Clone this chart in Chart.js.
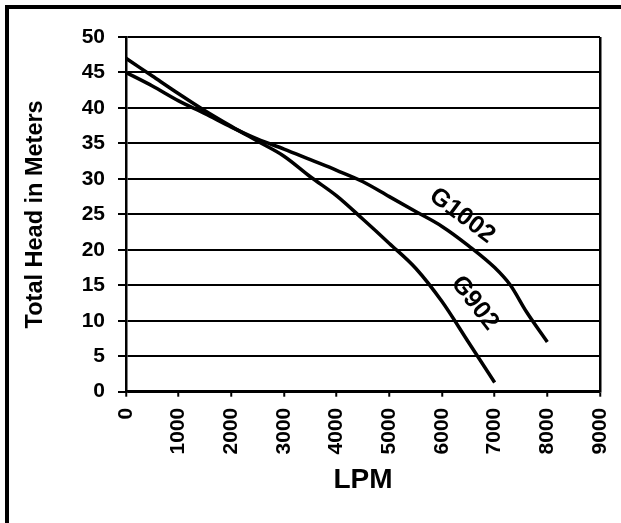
<!DOCTYPE html>
<html>
<head>
<meta charset="utf-8">
<script src="https://cdn.jsdelivr.net/npm/chart.js@4/dist/chart.umd.min.js"></script>
<style>
  html, body { margin: 0; padding: 0; background: #fff; overflow: hidden; }
  #frame { position: absolute; left: 5px; top: 5px; width: 700px; height: 600px;
           border-top: 4px solid #000; border-left: 4px solid #000; }
  #c { position: absolute; left: 0; top: 0; }
</style>
</head>
<body>
<div id="frame"></div>
<canvas id="c" width="621" height="523"></canvas>
<script>
// ---- data ----
const flowG902  = [0, 500, 1000, 1500, 2000, 2500, 3000, 3500, 4000, 4500, 5000, 5500, 6000, 6500, 7000];
const headG902  = [47, 44.5, 42.0, 39.6, 37.4, 35.3, 33.2, 30.3, 27.6, 24.3, 20.9, 17.4, 12.7, 7.0, 1.3];
const flowG1002 = [0, 500, 1000, 1500, 2000, 2500, 3000, 3500, 4000, 4500, 5000, 5500, 6000, 6500, 7000, 7300, 7600, 8000];
const headG1002 = [45, 43.1, 41.0, 39.2, 37.3, 35.6, 34.2, 32.7, 31.2, 29.6, 27.5, 25.4, 23.3, 20.6, 17.5, 15.0, 11.3, 7.0];
const seriesNames = ['G902', 'G1002'];
const xTicks = [0, 1000, 2000, 3000, 4000, 5000, 6000, 7000, 8000, 9000];
const yTicks = [0, 5, 10, 15, 20, 25, 30, 35, 40, 45, 50];
const xTitle = 'LPM';
const yTitle = 'Total Head in Meters';

// label anchors (data units) and angles for the curve names
const curveLabels = [
  { text: 'G1002', x: 6380, y: 24.8, angle: 37 },
  { text: 'G902',  x: 6620, y: 12.5, angle: 52 }
];

const FONT = "'Liberation Sans', Arial, sans-serif";

const toPts = (xs, ys) => xs.map((x, i) => ({ x, y: ys[i] }));

const labelPlugin = {
  id: 'curveLabels',
  afterDatasetsDraw(chart) {
    const { ctx, scales } = chart;
    ctx.save();
    ctx.fillStyle = '#000';
    ctx.font = "bold 25px " + FONT;
    ctx.textAlign = 'center';
    ctx.textBaseline = 'middle';
    curveLabels.forEach(l => {
      const px = scales.x.getPixelForValue(l.x);
      const py = scales.y.getPixelForValue(l.y);
      ctx.save();
      ctx.translate(px, py);
      ctx.rotate(l.angle * Math.PI / 180);
      ctx.fillText(l.text, 0, 0);
      ctx.restore();
    });
    ctx.restore();
  }
};

new Chart(document.getElementById('c'), {
  type: 'line',
  data: {
    datasets: [
      { label: seriesNames[0], data: toPts(flowG902, headG902) },
      { label: seriesNames[1], data: toPts(flowG1002, headG1002) }
    ]
  },
  options: {
    responsive: false,
    animation: false,
    devicePixelRatio: 1,
    layout: { padding: { left: 0, right: 21, top: 37, bottom: 0 } },
    elements: {
      line: { borderColor: '#000', borderWidth: 3.5, cubicInterpolationMode: 'monotone', fill: false },
      point: { radius: 0 }
    },
    plugins: { legend: { display: false }, tooltip: { enabled: false } },
    scales: {
      x: {
        type: 'linear', min: 0, max: 9000,
        afterBuildTicks: s => { s.ticks = xTicks.map(v => ({ value: v })); },
        afterFit: s => { s.height = 131.3; s.paddingLeft = 0; s.paddingRight = 0; },
        ticks: {
          autoSkip: false, minRotation: 90, maxRotation: 90, padding: 11,
          callback: v => String(v),
          color: '#000', font: { family: FONT, size: 21, weight: 'bold' }
        },
        grid: {
          drawOnChartArea: true, drawTicks: true, tickLength: 5,
          color: c => (c.tick && c.tick.value === 9000) ? '#000' : 'rgba(0,0,0,0)',
          tickColor: '#000', lineWidth: 2.5, tickWidth: 2
        },
        border: { display: true, color: '#000', width: 2.5 },
        title: {
          display: true, text: xTitle, color: '#000',
          font: { family: FONT, size: 28, weight: 'bold' },
          padding: { top: 0, bottom: 26 }
        }
      },
      y: {
        type: 'linear', min: 0, max: 50,
        afterBuildTicks: s => { s.ticks = yTicks.map(v => ({ value: v })); },
        afterFit: s => { s.width = 126; s.paddingTop = 0; s.paddingBottom = 0; },
        ticks: {
          padding: 13, color: '#000',
          callback: v => String(v),
          font: { family: FONT, size: 21, weight: 'bold' }
        },
        grid: {
          drawOnChartArea: true, drawTicks: true, tickLength: 8,
          color: '#000', lineWidth: 2, tickWidth: 2
        },
        border: { display: true, color: '#000', width: 2.5 },
        title: {
          display: true, text: yTitle, color: '#000',
          font: { family: FONT, size: 23.5, weight: 'bold' },
          padding: { top: 21, bottom: 0 }
        }
      }
    }
  },
  plugins: [labelPlugin]
});
</script>
</body>
</html>
